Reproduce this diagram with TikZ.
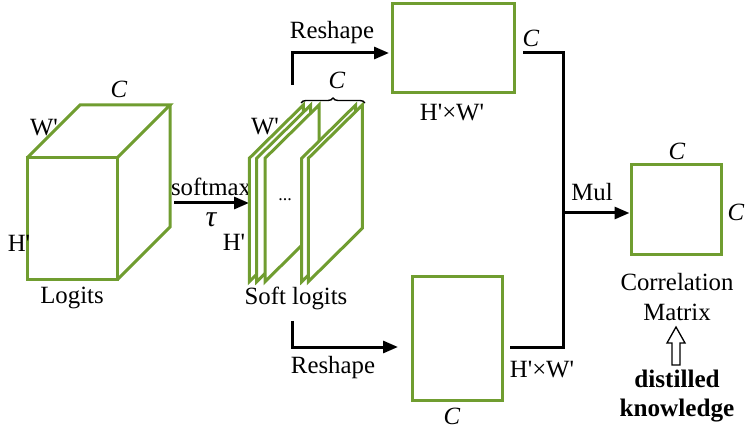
\documentclass[tikz,border=0pt]{standalone}
\usepackage{fontspec}
\setmainfont{Liberation Serif}
\usetikzlibrary{arrows.meta,decorations.pathreplacing}
\definecolor{lgreen}{RGB}{112,157,48}
\newcommand{\ap}{\textquotesingle}
\tikzset{
  gline/.style={draw=lgreen,line width=3pt,line join=miter},
  slicebox/.style={gline,fill=white},
  mbox/.style={draw=lgreen,line width=3pt,fill=white,inner sep=0pt},
  conn/.style={draw=black,line width=3pt},
  arr/.style={conn,-{Triangle[length=15pt,width=12pt]}},
  lbl/.style={font=\fontsize{24.8}{28}\selectfont,inner sep=0pt},
  ilbl/.style={font=\fontsize{24.8}{28}\selectfont\itshape,inner sep=0pt},
  blbl/.style={font=\fontsize{25.2}{28}\selectfont\bfseries,inner sep=0pt}
}
\begin{document}
\begin{tikzpicture}[x=1pt,y=-1pt]
\useasboundingbox (0,0) rectangle (747,430);
% cube
\draw[gline] (27,158) rectangle (117,280);
\draw[gline] (27,158) -- (80,105) -- (170,105) -- (117,158);
\draw[gline] (170,105) -- (170,227) -- (117,280);
\node[ilbl] (cC) at (119,89) {C};
\node[lbl] (cW) at (44,128) {W\ap};
\node[lbl] (cH) at (19,243) {H\ap};
\node[lbl] (logits) at (72,298) {Logits};
% softmax arrow
\coordinate (sa) at (174,203);
\coordinate (sb) at (249,203);
\draw[arr] (sa) -- (sb);
\node[lbl] (softmax) at (211,187) {softmax};
\node[lbl] (tau) at (211,220) {\fontsize{30}{30}\selectfont\itshape τ};
% slices
\foreach \a in {249.3,256.7,265,301.7,308.3}{
  \draw[slicebox] (\a,158.3) -- (\a+54,105) -- (\a+54,228.3) -- (\a,281.7) -- cycle;
}
\node[lbl] (dots) at (285,200) {\fontsize{18}{18}\selectfont...};
\node[lbl] (sW) at (265,127) {W\ap};
\node[lbl] (sH) at (234,242) {H\ap};
\draw[line width=1.4pt,decorate,decoration={brace,amplitude=5pt}] (301,103) -- (365,103);
\node[ilbl] (sC) at (337,80) {C};
\node[lbl] (softlogits) at (296,298) {Soft logits};
% upper box
\node[mbox,minimum width=122pt,minimum height=89pt] (ub) at (453,48.5) {};
\node[lbl] (ubl) at (452,113) {H\ap×W\ap};
\node[ilbl] (ubc) at (531,38) {C};
\coordinate (r1s) at (292,85);
\coordinate (r1e) at (389,53);
\draw[arr] (r1s) |- (r1e);
\node[lbl] (rs1) at (332,33) {Reshape};
% lower box
\node[mbox,minimum width=90pt,minimum height=123pt] (lb) at (457,338.5) {};
\node[ilbl] (lbc) at (452,416) {C};
\node[lbl] (lbl) at (542,370) {H\ap×W\ap};
\coordinate (r2s) at (292,321);
\coordinate (r2e) at (398,347);
\draw[arr] (r2s) |- (r2e);
\node[lbl] (rs2) at (333,368) {Reshape};
% joining lines
\coordinate (ja) at (523,53);
\coordinate (jb) at (510,347);
\coordinate (jm) at (563,213);
\draw[conn] (ja) -| (jm);
\draw[conn] (jb) -| (jm);
% correlation matrix
\node[mbox,minimum width=90pt,minimum height=90pt] (cm) at (676,210) {};
\draw[arr] (jm) -- (cm.west |- jm);
\node[lbl] (mul) at (592,192) {Mul};
\node[ilbl] (cmc1) at (677,151) {C};
\node[ilbl] (cmc2) at (736,212) {C};
\node[lbl,align=center] (cmt) at (677,297) {Correlation\\[2pt]Matrix};
% hollow arrow
\coordinate (ht) at (676,327);
\draw[line width=1.3pt,fill=white] (ht) -- (685,343) -- (680,343) -- (680,365) -- (672,365) -- (672,343) -- (667,343) -- cycle;
\node[blbl,align=center] (dk) at (677,396) {distilled\\[1pt]knowledge};
\end{tikzpicture}
\end{document}
